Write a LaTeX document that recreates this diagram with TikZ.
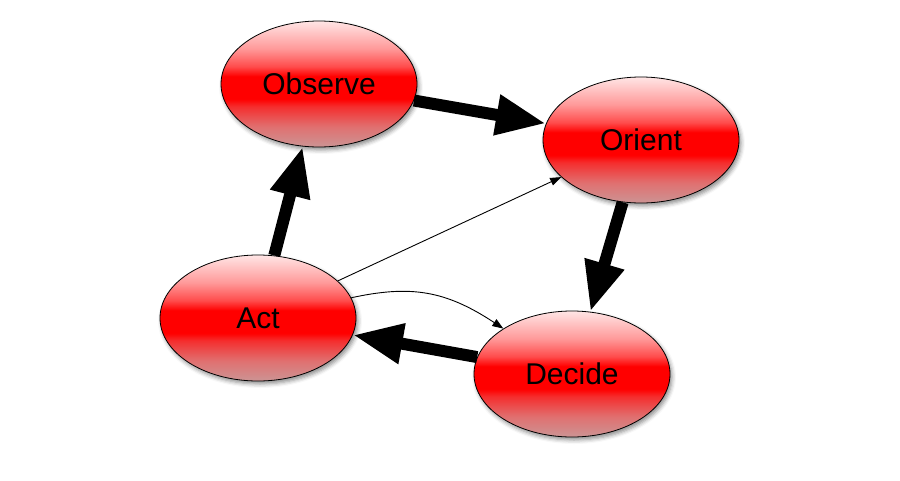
\documentclass[tikz,border=0pt]{standalone}
\usepackage{fontspec}
\setmainfont{Liberation Sans}
\usetikzlibrary{arrows.meta,shapes.geometric,shadows.blur}
\pgfdeclareverticalshading{glassred}{100bp}{rgb(0bp)=(0.8,0.58,0.58); rgb(25bp)=(0.8,0.58,0.58); rgb(33bp)=(0.88,0.44,0.44); rgb(41bp)=(0.96,0.18,0.18); rgb(44bp)=(1,0,0); rgb(53bp)=(1,0,0); rgb(57bp)=(1,0.3,0.3); rgb(64bp)=(1,0.6,0.6); rgb(75bp)=(1,0.9,0.9); rgb(100bp)=(1,0.9,0.9)}
\tikzset{
  phase/.style={ellipse,draw=black,line width=0.8pt,shading=glassred,minimum width=196pt,minimum height=126pt,inner sep=0pt,font=\fontsize{30}{32}\selectfont,blur shadow={shadow xshift=2pt,shadow yshift=-3pt,shadow blur radius=4pt,shadow opacity=45}},
  arrk/.style={-{Triangle[length=50pt,width=38pt]},line width=12pt},
  arrf/.style={-{Triangle[length=11pt,width=8pt]},line width=0.9pt},
}
\begin{document}
\begin{tikzpicture}[x=1pt,y=-1pt]
\useasboundingbox (0,0) rectangle (900,480);
\node[phase] (obs) at (319,84) {Observe};
\node[phase] (ori) at (641,140) {Orient};
\node[phase] (act) at (258,318) {Act};
\node[phase] (dec) at (572,374) {Decide};
% main loop
\draw[arrk](obs)--(ori);\draw[arrk](ori)--(dec);\draw[arrk](dec)--(act);\draw[arrk](act)--(obs);
% thin links
\draw[arrf](act)--(ori);
\draw[arrf](act) .. controls (410,285) and (445,290) .. (dec);
\end{tikzpicture}
\end{document}
